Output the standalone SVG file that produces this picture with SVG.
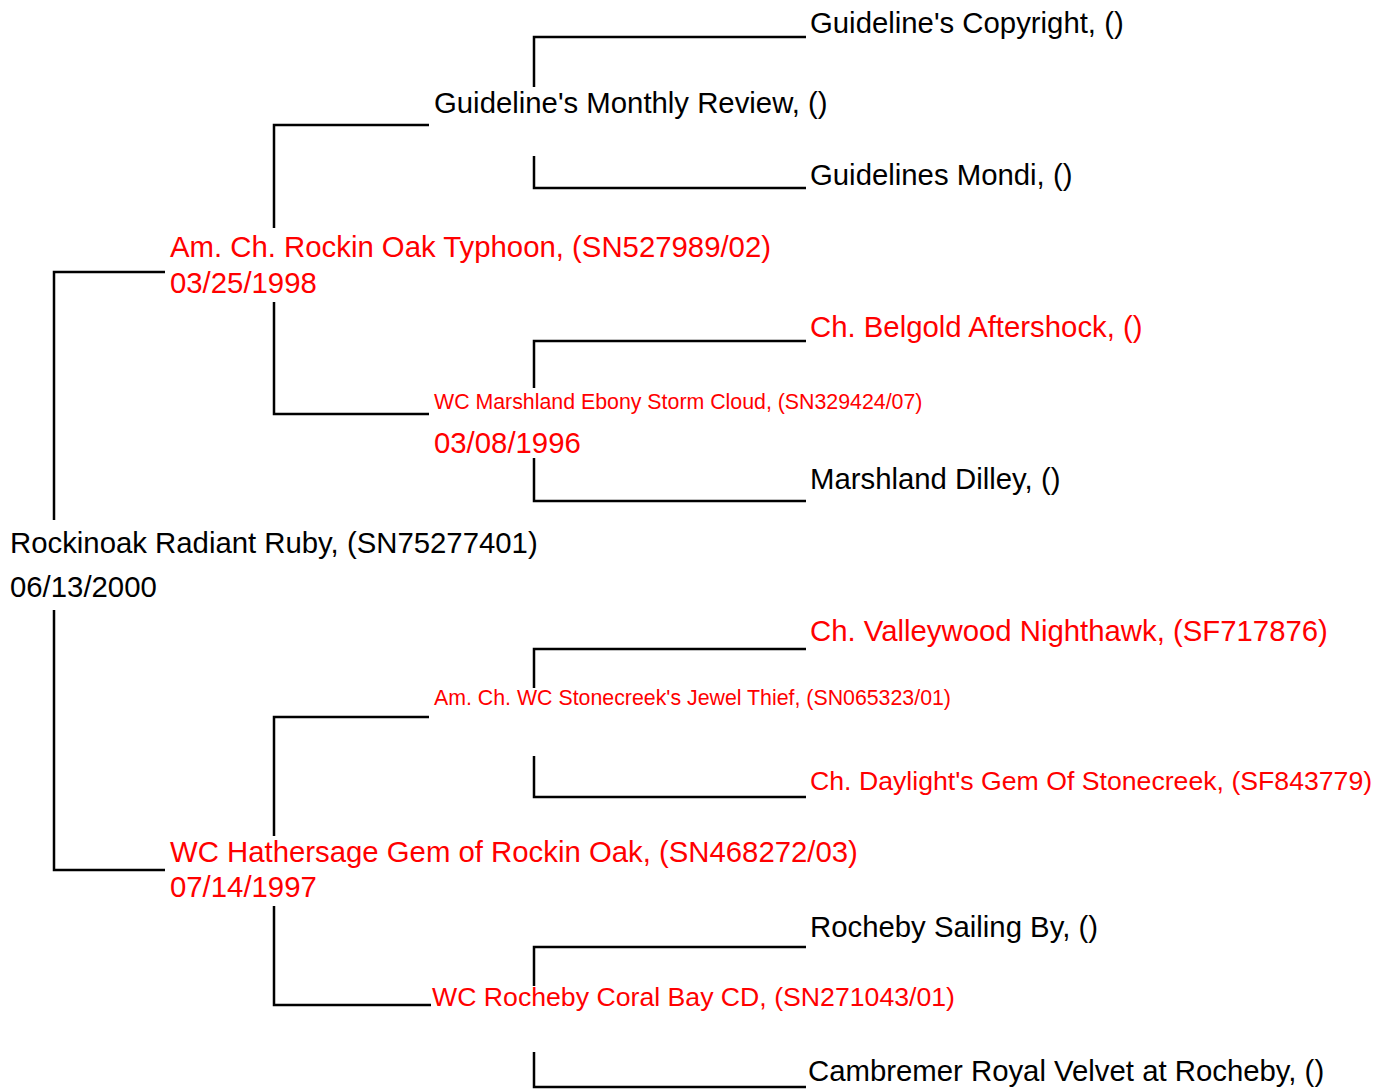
<svg xmlns="http://www.w3.org/2000/svg" width="1385" height="1089" viewBox="0 0 1385 1089">
<style>
text{font-family:"Liberation Sans",Arial,sans-serif;font-size:29.33px;fill:#000}
.r{fill:#ff0000}
.s{font-size:21.33px}
.m{font-size:26.67px}
#connectors path{fill:none;stroke:#000;stroke-width:2.5}
</style>
<rect width="1385" height="1089" fill="#fff"/>
<g id="connectors">
<path d="M54,520 V272 H165"/>
<path d="M54,610 V870 H165"/>
<path d="M274,228 V125 H429"/>
<path d="M274,302 V414 H429"/>
<path d="M274,836 V717 H429"/>
<path d="M274,906 V1005 H431"/>
<path d="M534,87 V37 H806"/>
<path d="M534,156 V188 H806"/>
<path d="M534,388 V341 H806"/>
<path d="M534,458 V501 H806"/>
<path d="M534,688 V649 H806"/>
<path d="M534,756 V797 H806"/>
<path d="M534,986 V947 H806"/>
<path d="M534,1052 V1087 H806"/>
</g>
<g id="n-copyright"><text x="810" y="33">Guideline's Copyright, ()</text></g>
<g id="n-monthly"><text x="434" y="113">Guideline's Monthly Review, ()</text></g>
<g id="n-mondi"><text x="810" y="185">Guidelines Mondi, ()</text></g>
<g id="n-typhoon"><text class="r" x="170" y="257">Am. Ch. Rockin Oak Typhoon, (SN527989/02)</text><text class="r" x="170" y="293">03/25/1998</text></g>
<g id="n-belgold"><text class="r" x="810" y="337">Ch. Belgold Aftershock, ()</text></g>
<g id="n-stormcloud"><text class="r s" x="434" y="409">WC Marshland Ebony Storm Cloud, (SN329424/07)</text><text class="r" x="434" y="453">03/08/1996</text></g>
<g id="n-dilley"><text x="810" y="489">Marshland Dilley, ()</text></g>
<g id="n-ruby"><text x="10" y="553">Rockinoak Radiant Ruby, (SN75277401)</text><text x="10" y="597">06/13/2000</text></g>
<g id="n-nighthawk"><text class="r" x="810" y="641">Ch. Valleywood Nighthawk, (SF717876)</text></g>
<g id="n-jewelthief"><text class="r s" x="434" y="705">Am. Ch. WC Stonecreek's Jewel Thief, (SN065323/01)</text></g>
<g id="n-daylight"><text class="r m" x="810" y="790">Ch. Daylight's Gem Of Stonecreek, (SF843779)</text></g>
<g id="n-hathersage"><text class="r" x="170" y="862">WC Hathersage Gem of Rockin Oak, (SN468272/03)</text><text class="r" x="170" y="897">07/14/1997</text></g>
<g id="n-sailingby"><text x="810" y="937">Rocheby Sailing By, ()</text></g>
<g id="n-coralbay"><text class="r m" x="432" y="1006">WC Rocheby Coral Bay CD, (SN271043/01)</text></g>
<g id="n-cambremer"><text x="808" y="1081">Cambremer Royal Velvet at Rocheby, ()</text></g>
</svg>
